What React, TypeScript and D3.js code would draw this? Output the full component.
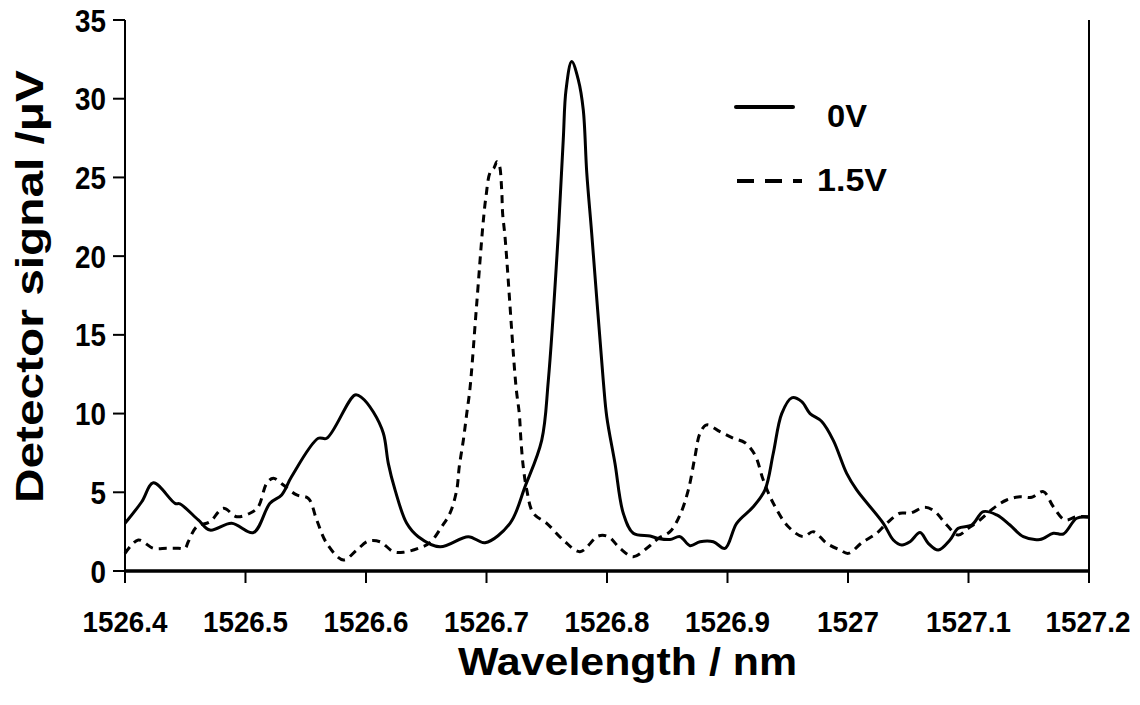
import React from "react";
import * as d3 from "d3";

const wl0: number[] = [1526.4,1526.4139,1526.4235,1526.4415,1526.4456,1526.4608,1526.4705,1526.4885,1526.5065,1526.5203,1526.53,1526.5383,1526.5604,1526.5674,1526.5909,1526.5967,1526.6061,1526.6144,1526.6185,1526.6241,1526.6338,1526.6434,1526.6614,1526.6849,1526.6988,1526.7195,1526.732,1526.7458,1526.7513,1526.7596,1526.7637,1526.766,1526.7707,1526.7762,1526.7803,1526.7832,1526.7873,1526.7969,1526.7998,1526.8066,1526.8135,1526.8218,1526.8357,1526.8426,1526.8523,1526.8606,1526.8689,1526.8772,1526.8882,1526.8979,1526.9076,1526.9214,1526.9311,1526.938,1526.945,1526.9533,1526.9616,1526.9685,1526.9782,1526.9878,1526.9989,1527.0072,1527.0293,1527.0376,1527.0446,1527.0515,1527.0598,1527.0666,1527.0749,1527.0846,1527.0915,1527.1027,1527.1123,1527.1234,1527.1344,1527.1455,1527.1593,1527.1704,1527.1787,1527.1898,1527.2];
const sig0: number[] = [3.03,4.4,5.6,4.3,4.26,3.24,2.6,3.03,2.44,4.3,4.83,6.0,8.43,8.43,11.18,11.0,10.1,8.75,6.84,5.15,3.03,2.18,1.54,2.18,1.8,3.03,5.36,8.3,12.1,21.45,27.4,30.56,32.36,31.2,29.3,25.3,21.45,12.1,9.8,6.84,3.67,2.4,2.22,2.07,2.0,2.18,1.61,1.86,1.86,1.44,3.03,4.08,5.15,7.48,10.0,11.0,10.76,10.0,9.5,8.3,6.2,5.15,3.03,1.97,1.65,1.86,2.44,1.76,1.33,1.97,2.71,2.92,3.77,3.56,2.92,2.18,2.0,2.4,2.35,3.35,3.41];

const wl15: number[] = [1526.4,1526.411,1526.4235,1526.4346,1526.4442,1526.4498,1526.4525,1526.4595,1526.4705,1526.4816,1526.4927,1526.5037,1526.5106,1526.5176,1526.5231,1526.5314,1526.5425,1526.5521,1526.5591,1526.5674,1526.5812,1526.5923,1526.6019,1526.6116,1526.6227,1526.631,1526.6434,1526.6531,1526.6628,1526.6697,1526.6753,1526.6774,1526.6808,1526.6836,1526.6863,1526.6917,1526.6973,1526.6996,1526.7029,1526.7062,1526.7087,1526.7106,1526.7126,1526.7134,1526.7154,1526.7245,1526.7272,1526.7286,1526.7305,1526.7334,1526.7388,1526.75,1526.7637,1526.7776,1526.7928,1526.8011,1526.8108,1526.8218,1526.833,1526.8426,1526.8523,1526.8606,1526.8675,1526.873,1526.8772,1526.8827,1526.8938,1526.9048,1526.9145,1526.9228,1526.9297,1526.938,1526.9505,1526.9629,1526.9712,1526.9823,1526.9934,1527.0002,1527.0116,1527.0238,1527.0321,1527.0432,1527.0515,1527.0639,1527.0722,1527.0819,1527.0915,1527.0998,1527.1095,1527.1206,1527.1317,1527.1427,1527.1525,1527.1621,1527.1704,1527.1801,1527.1898,1527.2];
const sig15: number[] = [1.12,1.97,1.44,1.44,1.44,1.44,1.86,2.81,3.13,3.98,3.45,3.67,4.08,5.57,5.89,5.46,4.83,4.62,3.24,1.76,0.7,1.33,1.9,1.86,1.23,1.19,1.44,1.8,2.81,3.67,5.15,6.63,8.32,10.0,11.6,16.8,22.2,23.8,25.3,25.6,26.0,25.8,24.2,22.7,21.2,11.7,10.0,8.3,6.63,5.15,3.67,3.03,1.97,1.23,2.22,2.18,1.44,0.91,1.44,2.07,2.5,3.56,5.15,7.26,8.75,9.28,8.85,8.43,8.15,7.37,5.78,4.3,2.81,2.18,2.5,1.76,1.33,1.12,1.8,2.4,3.03,3.67,3.67,4.05,3.77,2.92,2.29,2.71,3.24,3.98,4.51,4.72,4.68,5.04,4.08,3.24,3.45,3.45];

const xTicks: number[] = [1526.4,1526.5,1526.6,1526.7,1526.8,1526.9,1527.0,1527.1,1527.2];
const xTickLabels: string[] = ["1526.4","1526.5","1526.6","1526.7","1526.8","1526.9","1527","1527.1","1527.2"];
const yTicks: number[] = [0,5,10,15,20,25,30,35];
const seriesNames: string[] = ["0V", "1.5V"];

const FONT = "'Liberation Sans', Arial, Helvetica, sans-serif";
const EMW = 27.8; // condensed px per em-width for tick labels

function labelWidth(s: string): number {
  let w = 0;
  for (const c of s) w += c === "." ? 0.278 : 0.556;
  return w * EMW;
}

export default function App() {
  const left = 125, right = 1089, top = 20, bottom = 571;
  const x = d3.scaleLinear().domain([1526.4, 1527.2]).range([left, right]);
  const y = d3.scaleLinear().domain([0, 35]).range([bottom, top]);

  const line = d3.line<[number, number]>()
    .x(d => x(d[0]))
    .y(d => y(d[1]))
    .curve(d3.curveCatmullRom.alpha(0.5));

  const d0 = line(wl0.map((w, i) => [w, sig0[i]] as [number, number])) || "";
  const d15 = line(wl15.map((w, i) => [w, sig15[i]] as [number, number])) || "";

  return (
    <svg width={1140} height={705} style={{ position: "absolute", left: 0, top: 0, background: "#fff" }}
      fontFamily={FONT} fontWeight="bold">
      <rect x={0} y={0} width={1140} height={705} fill="#fff" />
      <path d={d15} fill="none" stroke="#000" strokeWidth={3} strokeDasharray="8,6" />
      <path d={d0} fill="none" stroke="#000" strokeWidth={3} strokeLinejoin="round" />

      <line x1={left} x2={left} y1={top} y2={bottom} stroke="#000" strokeWidth={2} />
      <line x1={right} x2={right} y1={top} y2={bottom} stroke="#000" strokeWidth={2} />
      <line x1={left - 1} x2={right + 1} y1={bottom} y2={bottom} stroke="#000" strokeWidth={3.5} />

      {yTicks.map(t => (
        <g key={"y" + t}>
          <line x1={left - 12} x2={left} y1={y(t)} y2={y(t)} stroke="#000" strokeWidth={2} />
          <text x={106} y={y(t) + 11.5} textAnchor="end" fontSize={31}
            textLength={labelWidth(String(t))} lengthAdjust="spacingAndGlyphs">{t}</text>
        </g>
      ))}
      {xTicks.map((t, i) => (
        <g key={"x" + t}>
          <line x1={x(t)} x2={x(t)} y1={bottom} y2={bottom + 12} stroke="#000" strokeWidth={2} />
          <text x={i === xTicks.length - 1 ? x(t) - 1 : x(t)} y={632} textAnchor="middle" fontSize={30}
            textLength={labelWidth(xTickLabels[i])} lengthAdjust="spacingAndGlyphs">{xTickLabels[i]}</text>
        </g>
      ))}

      <text x={627.5} y={675} textAnchor="middle" fontSize={38} textLength={339}
        lengthAdjust="spacingAndGlyphs">Wavelength / nm</text>
      <text transform="translate(43,286.5) rotate(-90)" x={0} y={0} textAnchor="middle" fontSize={39}
        textLength={433} lengthAdjust="spacingAndGlyphs">Detector signal /μV</text>

      <line x1={736} x2={793} y1={107} y2={107} stroke="#000" strokeWidth={4} strokeLinecap="round" />
      <text x={827} y={127} fontSize={32} textLength={40} lengthAdjust="spacingAndGlyphs">{seriesNames[0]}</text>
      <line x1={737} x2={802} y1={181} y2={181} stroke="#000" strokeWidth={4} strokeDasharray="17,11" />
      <text x={817} y={191} fontSize={32} textLength={70} lengthAdjust="spacingAndGlyphs">{seriesNames[1]}</text>
    </svg>
  );
}
